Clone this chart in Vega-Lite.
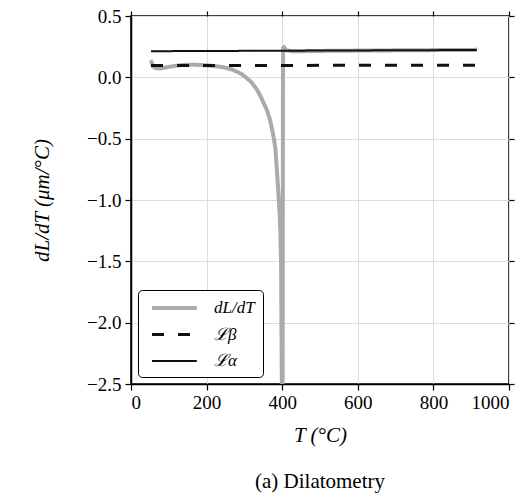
{
  "$schema": "https://vega.github.io/schema/vega-lite/v6.json",
  "width": 378,
  "height": 368,
  "autosize": {"type": "none"},
  "padding": {"left": 131, "top": 16, "right": 23, "bottom": 114},
  "background": "white",
  "config": {
    "font": "Liberation Serif",
    "view": {"stroke": "black", "strokeWidth": 1.5},
    "axis": {"labelFont": "Liberation Serif", "titleFont": "Liberation Serif", "labelColor": "black", "titleColor": "black", "domainColor": "black", "tickColor": "black", "domainWidth": 1.5, "tickWidth": 1.2, "labelFontSize": 19, "titleFontSize": 21, "titleFontWeight": "normal", "gridColor": "#dddddd", "gridWidth": 1},
    "legend": {"labelFont": "Liberation Serif"},
    "title": {"font": "Liberation Serif"}
  },
  "title": {"text": "(a) Dilatometry", "orient": "bottom", "anchor": "middle", "fontSize": 21, "fontWeight": "normal", "font": "Liberation Serif", "color": "black", "offset": 26},
  "data": {"values": [
    {"T": 52, "v": 0.14, "s": "dL/dT"},
    {"T": 55, "v": 0.12, "s": "dL/dT"},
    {"T": 58, "v": 0.09, "s": "dL/dT"},
    {"T": 65, "v": 0.075, "s": "dL/dT"},
    {"T": 77, "v": 0.072, "s": "dL/dT"},
    {"T": 95, "v": 0.082, "s": "dL/dT"},
    {"T": 113, "v": 0.092, "s": "dL/dT"},
    {"T": 135, "v": 0.1, "s": "dL/dT"},
    {"T": 157, "v": 0.103, "s": "dL/dT"},
    {"T": 180, "v": 0.101, "s": "dL/dT"},
    {"T": 201, "v": 0.098, "s": "dL/dT"},
    {"T": 225, "v": 0.09, "s": "dL/dT"},
    {"T": 245, "v": 0.082, "s": "dL/dT"},
    {"T": 265, "v": 0.066, "s": "dL/dT"},
    {"T": 280, "v": 0.046, "s": "dL/dT"},
    {"T": 295, "v": 0.022, "s": "dL/dT"},
    {"T": 307, "v": -0.008, "s": "dL/dT"},
    {"T": 320, "v": -0.045, "s": "dL/dT"},
    {"T": 333, "v": -0.1, "s": "dL/dT"},
    {"T": 342, "v": -0.15, "s": "dL/dT"},
    {"T": 351, "v": -0.21, "s": "dL/dT"},
    {"T": 360, "v": -0.27, "s": "dL/dT"},
    {"T": 368, "v": -0.35, "s": "dL/dT"},
    {"T": 373, "v": -0.42, "s": "dL/dT"},
    {"T": 378, "v": -0.5, "s": "dL/dT"},
    {"T": 382, "v": -0.58, "s": "dL/dT"},
    {"T": 386, "v": -0.76, "s": "dL/dT"},
    {"T": 390, "v": -0.95, "s": "dL/dT"},
    {"T": 393, "v": -1.1, "s": "dL/dT"},
    {"T": 395, "v": -1.25, "s": "dL/dT"},
    {"T": 397, "v": -1.5, "s": "dL/dT"},
    {"T": 398, "v": -2.0, "s": "dL/dT"},
    {"T": 399, "v": -2.5, "s": "dL/dT"},
    {"T": 400, "v": -2.9, "s": "dL/dT"},
    {"T": 401, "v": -2.9, "s": "dL/dT"},
    {"T": 401.5, "v": -1.5, "s": "dL/dT"},
    {"T": 402, "v": 0.0, "s": "dL/dT"},
    {"T": 402.5, "v": 0.24, "s": "dL/dT"},
    {"T": 405, "v": 0.245, "s": "dL/dT"},
    {"T": 410, "v": 0.22, "s": "dL/dT"},
    {"T": 430, "v": 0.212, "s": "dL/dT"},
    {"T": 470, "v": 0.214, "s": "dL/dT"},
    {"T": 520, "v": 0.216, "s": "dL/dT"},
    {"T": 600, "v": 0.218, "s": "dL/dT"},
    {"T": 700, "v": 0.22, "s": "dL/dT"},
    {"T": 800, "v": 0.222, "s": "dL/dT"},
    {"T": 915, "v": 0.224, "s": "dL/dT"},
    {"T": 53, "v": 0.097, "s": "ℒβ"},
    {"T": 912, "v": 0.098, "s": "ℒβ"},
    {"T": 53, "v": 0.213, "s": "ℒα"},
    {"T": 915, "v": 0.223, "s": "ℒα"}
  ]},
  "layer": [
    {
      "mark": {"type": "line", "clip": true},
      "encoding": {
        "x": {"field": "T", "type": "quantitative", "scale": {"domain": [0, 1000], "nice": false, "zero": false},
              "axis": {"title": "T  (°C)", "titleFontStyle": "italic", "values": [0, 200, 400, 600, 800, 1000], "format": "d", "labelFont": "Liberation Serif", "labelFontSize": 19, "tickSize": 6, "labelPadding": 3, "titlePadding": 12, "grid": true}},
        "y": {"field": "v", "type": "quantitative", "scale": {"domain": [-2.5, 0.5], "nice": false, "zero": false},
              "axis": {"title": "dL/dT  (μm/°C)", "titleFontStyle": "italic", "titleFontSize": 21, "values": [-2.5, -2.0, -1.5, -1.0, -0.5, 0.0, 0.5], "format": ".1f", "labelFont": "Liberation Serif", "labelFontSize": 19, "tickSize": 6, "labelPadding": 4, "titlePadding": 34, "grid": true}},
        "color": {"field": "s", "type": "nominal", "sort": null,
                  "scale": {"domain": ["dL/dT", "ℒβ", "ℒα"], "range": ["#aaaaaa", "#111111", "#111111"]},
                  "legend": {"title": null, "orient": "bottom-left", "offset": 7, "padding": 8, "strokeColor": "black", "cornerRadius": 4, "fillColor": "white", "symbolType": "M-0.5,0L5.1,0", "symbolSize": 256, "labelFontSize": 17, "labelFontStyle": "italic", "labelColor": "black", "rowPadding": 9, "labelOffset": 48}},
        "strokeDash": {"field": "s", "type": "nominal", "sort": null,
                       "scale": {"domain": ["dL/dT", "ℒβ", "ℒα"], "range": [[1, 0], [12, 14], [1, 0]]}},
        "strokeWidth": {"field": "s", "type": "nominal", "sort": null,
                        "scale": {"domain": ["dL/dT", "ℒβ", "ℒα"], "range": [4, 2, 2]}}
      }
    },
    {
      "mark": {"type": "point", "opacity": 0},
      "encoding": {
        "x": {"field": "T", "type": "quantitative", "axis": {"orient": "top", "labels": false, "title": null, "values": [0, 200, 400, 600, 800, 1000], "ticks": true, "domain": false, "tickSize": 5, "grid": false}},
        "y": {"field": "v", "type": "quantitative", "axis": {"orient": "right", "labels": false, "title": null, "values": [-2.5, -2.0, -1.5, -1.0, -0.5, 0.0, 0.5], "ticks": true, "domain": false, "tickSize": 5, "grid": false}}
      }
    }
  ],
  "resolve": {"axis": {"x": "independent", "y": "independent"}}
}
